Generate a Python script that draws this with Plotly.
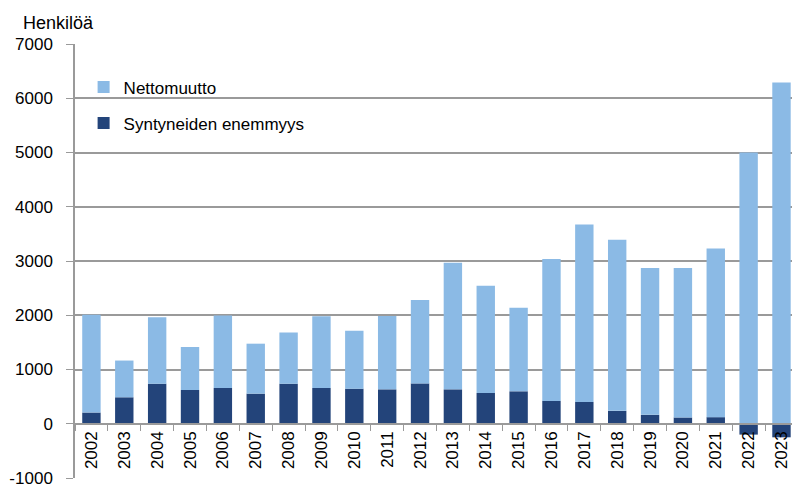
import plotly.graph_objects as go

years = [str(y) for y in range(2002, 2024)]
syntyneiden = [207, 488, 738, 622, 659, 555, 738, 659, 646, 634,
               744, 634, 567, 598, 421, 402, 238, 165, 116, 122, -200, -250]
nettomuutto = [1800, 677, 1225, 793, 1335, 921, 945, 1323, 1067, 1354,
               1536, 2336, 1976, 1542, 2616, 3269, 3152, 2707, 2756, 3110, 5000, 6290]
y_ticks = [-1000, 0, 1000, 2000, 3000, 4000, 5000, 6000, 7000]
y_tick_labels = ["-1000", "0", "1000", "2000", "3000", "4000", "5000", "6000", "7000"]

LIGHT = "#8BBAE5"
DARK = "#23447A"
GRID = "#9A9A9A"
FONT = "Liberation Sans"

fig = go.Figure()
fig.add_trace(go.Bar(x=years, y=syntyneiden, name="Syntyneiden enemmyys",
                     marker=dict(color=DARK, line=dict(width=0)),
                     legendgroup="b", legendrank=2))
fig.add_trace(go.Bar(x=years, y=nettomuutto, name="Nettomuutto",
                     marker=dict(color=LIGHT, line=dict(width=0)),
                     legendgroup="a", legendrank=1))

fig.update_layout(
    width=792, height=489,
    margin=dict(l=75, r=0, t=44, b=11),
    barmode="relative", bargap=0.44,
    plot_bgcolor="white", paper_bgcolor="white",
    font=dict(family=FONT, size=17, color="black"),
    showlegend=True,
    legend=dict(x=0.012, y=0.9415, xanchor="left", yanchor="top",
                traceorder="grouped", tracegroupgap=11,
                font=dict(size=17), bgcolor="rgba(0,0,0,0)",
                itemwidth=30),
    xaxis=dict(type="category", range=[-0.5, 21.32], anchor="free", position=0.125,
               showline=True, linecolor=GRID, linewidth=1.5,
               ticks="outside", ticklen=6, tickcolor=GRID, tickson="boundaries",
               tickangle=-90, showgrid=False, tickfont=dict(size=17)),
    yaxis=dict(range=[-1000, 7000], tickvals=y_ticks, ticktext=y_tick_labels,
               showgrid=True, gridcolor=GRID,
               gridwidth=1.5, zeroline=False, showline=True, linecolor=GRID, linewidth=1.5,
               ticks="outside", ticklen=7, tickcolor=GRID, ticklabelstandoff=10,
               tickfont=dict(size=17)),
    annotations=[dict(text="Henkilöä", xref="paper", yref="paper", x=-0.075, y=1.0,
                      xanchor="left", yanchor="bottom", yshift=9, showarrow=False,
                      font=dict(size=18))],
)

fig.write_html("out.html", config={"displayModeBar": False},
               post_script="document.body.style.margin='0';document.body.style.overflow='hidden';")
